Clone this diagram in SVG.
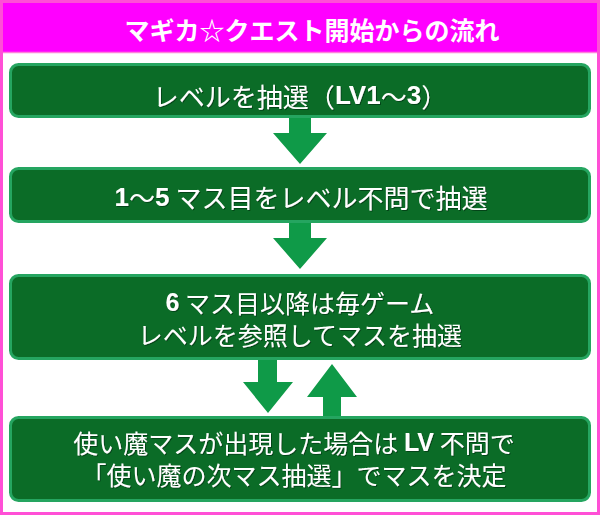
<svg xmlns="http://www.w3.org/2000/svg" width="600" height="515" viewBox="0 0 600 515">
<defs>
<style>
.box{fill:#0b6c27;stroke:#25a560;stroke-width:3}
.arr{fill:#0f9a48}
.t{font-family:"Noto Sans CJK JP","Noto Sans",sans-serif;font-size:25px;fill:#ffffff;text-anchor:middle;dominant-baseline:central}
.big{font-size:26px}
.b{font-family:"Liberation Sans",Arial,sans-serif;font-weight:bold}
.title{font-family:"Noto Sans CJK JP","Noto Sans",sans-serif;font-size:25px;font-weight:bold;fill:#ffffff;text-anchor:middle;dominant-baseline:central}
</style>
<filter id="sh" x="-5%" y="-20%" width="110%" height="140%">
<feDropShadow dx="1" dy="1" stdDeviation="0.6" flood-color="#003010" flood-opacity="0.7"/>
</filter>
</defs>
<rect x="1.5" y="1.5" width="597" height="512" fill="#ffffff" stroke="#ff4fd6" stroke-width="3"/>
<g id="header">
<rect x="3" y="3" width="594" height="49" fill="#ff00ff"/>
<line x1="3" y1="52.5" x2="597" y2="52.5" stroke="#ff7fdc" stroke-width="1.5"/>
<text class="title" x="312" y="29">マギカ☆クエスト開始からの流れ</text>
</g>
<g id="connectors">
<polygon class="arr" points="289,117 311,117 311,133 327,133 300,164 273,133 289,133"/>
<polygon class="arr" points="289,222 311,222 311,238 327,238 300,269 273,238 289,238"/>
<polygon class="arr" points="258,359 277,359 277,382 293,382 268,413 243,382 258,382"/>
<polygon class="arr" points="323,417 341,417 341,397 357,397 332,364 307,397 323,397"/>
</g>
<g id="node1">
<rect class="box" x="10.5" y="64.5" width="579" height="52" rx="8"/>
<text class="t big" x="300" y="95" filter="url(#sh)">レベルを抽選（<tspan class="b">LV1</tspan>〜<tspan class="b">3</tspan>）</text>
</g>
<g id="node2">
<rect class="box" x="10.5" y="168.5" width="579" height="53" rx="8"/>
<text class="t big" x="301" y="196.5" filter="url(#sh)"><tspan class="b">1</tspan>〜<tspan class="b">5</tspan> マス目をレベル不問で抽選</text>
</g>
<g id="node3">
<rect class="box" x="10.5" y="275.5" width="579" height="83" rx="8"/>
<text class="t" x="300" y="301.5" filter="url(#sh)"><tspan class="b">6</tspan> マス目以降は毎ゲーム</text>
<text class="t" x="300" y="333.5" filter="url(#sh)">レベルを参照してマスを抽選</text>
</g>
<g id="node4">
<rect class="box" x="10.5" y="417.5" width="579" height="83" rx="8"/>
<text class="t" x="294" y="442" filter="url(#sh)">使い魔マスが出現した場合は <tspan class="b">LV</tspan> 不問で</text>
<text class="t" x="294" y="474" filter="url(#sh)">「使い魔の次マス抽選」でマスを決定</text>
</g>
</svg>
